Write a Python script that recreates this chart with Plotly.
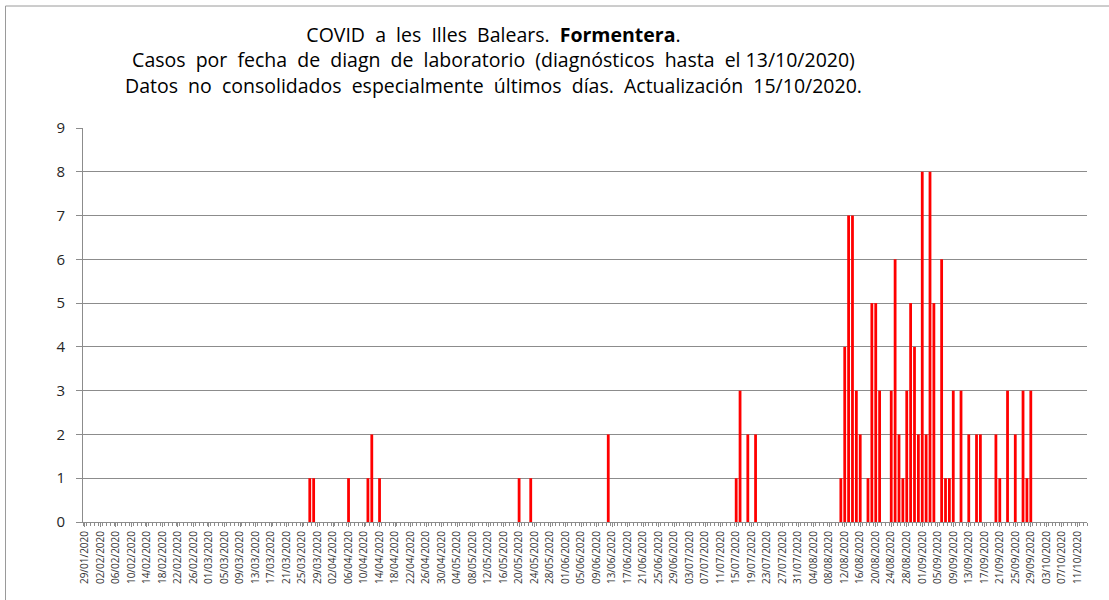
import pandas as pd
import plotly.graph_objects as go

# Categories: one per day of laboratory diagnosis
start_date = "2020-01-29"
end_date = "2020-10-13"
dates = pd.date_range(start_date, end_date, freq="D")
date_labels = [d.strftime("%d/%m/%Y") for d in dates]

# Non-zero daily cases; all other days are 0
case_dates = [
    "27/03/2020", "28/03/2020", "06/04/2020", "11/04/2020", "12/04/2020", "14/04/2020",
    "20/05/2020", "23/05/2020", "12/06/2020",
    "15/07/2020", "16/07/2020", "18/07/2020", "20/07/2020",
    "11/08/2020", "12/08/2020", "13/08/2020", "14/08/2020", "15/08/2020", "16/08/2020",
    "18/08/2020", "19/08/2020", "20/08/2020", "21/08/2020", "24/08/2020", "25/08/2020",
    "26/08/2020", "27/08/2020", "28/08/2020", "29/08/2020", "30/08/2020", "31/08/2020",
    "01/09/2020", "02/09/2020", "03/09/2020", "04/09/2020", "06/09/2020", "07/09/2020",
    "08/09/2020", "09/09/2020", "11/09/2020", "13/09/2020", "15/09/2020", "16/09/2020",
    "20/09/2020", "21/09/2020", "23/09/2020", "25/09/2020", "27/09/2020", "28/09/2020",
    "29/09/2020",
]
case_values = [
    1, 1, 1, 1, 2, 1,
    1, 1, 2,
    1, 3, 2, 2,
    1, 4, 7, 7, 3, 2,
    1, 5, 5, 3, 3, 6,
    2, 1, 3, 5, 4, 2,
    8, 2, 8, 5, 6, 1,
    1, 3, 3, 2, 2, 2,
    2, 1, 3, 2, 3, 1,
    3,
]

case_map = dict(zip(case_dates, case_values))
daily_cases = [case_map.get(lbl, 0) for lbl in date_labels]
x_idx = list(range(len(date_labels)))

tick_idx = x_idx[::4]
tick_text = date_labels[::4]

title_lines = [
    "COVID  a  les  Illes  Balears.  <b>Formentera</b>.",
    "Casos  por  fecha  de  diagn  de  laboratorio  (diagnósticos  hasta  el 13/10/2020)",
    "Datos  no  consolidados  especialmente  últimos  días.  Actualización  15/10/2020.",
]

FONT = "Open Sans"
ML, MR, MT = 83, 22, 128
PW, PH = 1004, 394
MB = 600 - MT - PH

fig = go.Figure()
fig.add_trace(go.Bar(
    x=x_idx, y=daily_cases,
    marker=dict(color="#FF0000", line=dict(width=0)),
    hovertext=date_labels,
))

fig.update_layout(
    width=1109, height=600,
    margin=dict(l=ML, r=MR, t=MT, b=MB),
    paper_bgcolor="white", plot_bgcolor="white",
    bargap=0.28,
    showlegend=False,
    font=dict(family=FONT, color="#262626"),
    xaxis=dict(
        range=[-0.5, len(date_labels) - 0.5],
        tickmode="array", tickvals=tick_idx, ticktext=tick_text,
        tickangle=-90, tickfont=dict(size=10, color="#333333", family=FONT),
        ticks="outside", ticklen=4, tickcolor="#8c8c8c",
        minor=dict(ticks="outside", ticklen=3, tickcolor="#8c8c8c",
                   tick0=-0.5, dtick=1, showgrid=False),
        showline=True, linecolor="#8c8c8c", linewidth=1,
        showgrid=False, zeroline=False,
    ),
    yaxis=dict(
        range=[0, 9], dtick=1,
        tickfont=dict(size=15, color="#262626", family=FONT),
        ticks="outside", ticklen=6, tickcolor="#8c8c8c",
        ticklabelstandoff=8,
        showline=True, linecolor="#8c8c8c", linewidth=1,
        showgrid=True, gridcolor="#8c8c8c", gridwidth=1,
        zeroline=False,
    ),
)

plot_left, plot_top = ML, MT
plot_bottom = plot_top + PH

# three-line title, centred in window pixels
fig.add_annotation(
    text="<br>".join(title_lines), xref="paper", yref="paper",
    x=(493 - plot_left) / PW, y=(plot_bottom - 60) / PH,
    xanchor="center", yanchor="middle", align="center", showarrow=False,
    font=dict(size=19.5, color="#000000", family=FONT),
)

# outer chart border
fig.add_shape(
    type="rect", xref="paper", yref="paper",
    x0=(5.5 - plot_left) / PW, x1=(1125 - plot_left) / PW,
    y0=(plot_bottom - 620) / PH, y1=(plot_bottom - 6) / PH,
    line=dict(color="#9a9a9a", width=1), fillcolor="rgba(0,0,0,0)", layer="below",
)

fig.write_html("out.html", config={"displayModeBar": False},
               post_script="document.body.style.margin='0';")
